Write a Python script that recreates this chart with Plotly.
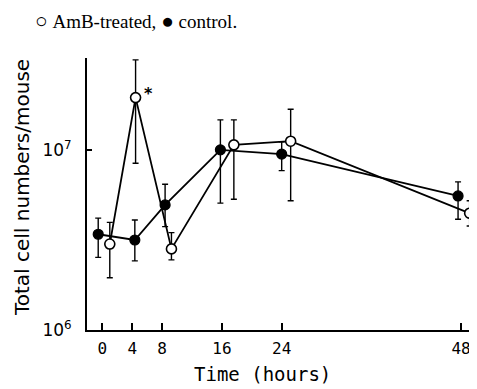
import plotly.graph_objects as go

# Time (hours) of each plotted point (points slightly offset from the tick hours)
ctrl_t = [-0.55, 4.35, 8.4, 15.8, 24.0, 47.6]
ctrl_v = [3.40e6, 3.16e6, 4.95e6, 1.00e7, 9.47e6, 5.55e6]
ctrl_hi = [4.18e6, 4.08e6, 6.44e6, 1.468e7, 1.11e7, 6.64e6]
ctrl_lo = [2.53e6, 2.42e6, 3.75e6, 5.06e6, 7.67e6, 4.12e6]

amb_t = [1.0, 4.45, 9.25, 17.6, 25.2, 49.15]
amb_v = [3.00e6, 1.95e7, 2.82e6, 1.066e7, 1.117e7, 4.45e6]
amb_hi = [3.96e6, 3.16e7, 3.47e6, 1.468e7, 1.68e7, 5.22e6]
amb_lo = [1.95e6, 8.43e6, 2.45e6, 5.32e6, 5.22e6, 3.78e6]

x_ticks = [0, 4, 8, 16, 24, 48]
y_ticks = [1e6, 1e7]
y_ticktext = ["10<sup>6</sup>", "10<sup>7</sup>"]

def err(v, hi, lo):
    return dict(type="data", symmetric=False,
                array=[h - x for h, x in zip(hi, v)],
                arrayminus=[x - l for l, x in zip(lo, v)],
                color="black", thickness=1.4, width=3)

fig = go.Figure()
fig.add_trace(go.Scatter(
    x=ctrl_t, y=ctrl_v, mode="lines+markers", name="control", cliponaxis=False,
    line=dict(color="black", width=1.8),
    marker=dict(symbol="circle", size=10, color="black", line=dict(color="black", width=1.2)),
    error_y=err(ctrl_v, ctrl_hi, ctrl_lo)))
fig.add_trace(go.Scatter(
    x=amb_t, y=amb_v, mode="lines+markers", name="AmB-treated", cliponaxis=False,
    line=dict(color="black", width=1.8),
    marker=dict(symbol="circle", size=10, color="white", line=dict(color="black", width=1.6)),
    error_y=err(amb_v, amb_hi, amb_lo)))

fig.add_annotation(x=amb_t[1], y=7.29, xref="x", yref="y", text="<b>*</b>",
                   showarrow=False, xshift=13, yshift=4,
                   font=dict(family="DejaVu Sans", size=16, color="black"))
fig.add_annotation(x=-0.139, y=1.136, xref="paper", yref="paper", xanchor="left", yanchor="middle",
                   text=("<span style='font-size:21px'>○</span>\u00a0AmB-treated,\u00a0"
                         "<span style='font-size:21px'>●</span>\u00a0control."),
                   showarrow=False,
                   font=dict(family="Liberation Serif", size=19, color="black"))
fig.add_annotation(x=-0.167, y=0.522, xref="paper", yref="paper", xanchor="center", yanchor="middle",
                   text="Total cell numbers/mouse", textangle=-90, showarrow=False,
                   font=dict(family="DejaVu Sans", size=20, color="black"))
fig.add_annotation(x=0.45, y=-0.162, xref="paper", yref="paper", xanchor="center", yanchor="middle",
                   text="Time (hours)", showarrow=False,
                   font=dict(family="DejaVu Sans Mono", size=19, color="black"))

fig.update_layout(
    width=469, height=381,
    margin=dict(l=79, r=1, t=50, b=59, autoexpand=False),
    paper_bgcolor="white", plot_bgcolor="white",
    showlegend=False,
    font=dict(family="DejaVu Sans", color="black"),
    xaxis=dict(range=[-2.05, 50.0], tickvals=x_ticks, ticks="inside", ticklen=7,
               tickwidth=1.5, tickcolor="black", showgrid=False, zeroline=False,
               showline=True, linecolor="black", linewidth=2, ticklabelstandoff=3,
               tickfont=dict(family="DejaVu Sans Mono", size=16)),
    yaxis=dict(type="log", range=[6, 7.51], tickvals=y_ticks, ticktext=y_ticktext,
               ticks="inside", ticklen=5, tickwidth=1.5, tickcolor="black",
               showgrid=False, zeroline=False, showline=True, linecolor="black", linewidth=2,
               ticklabelstandoff=10,
               tickfont=dict(family="DejaVu Sans", size=17)),
)

fig.write_html("out.html")
